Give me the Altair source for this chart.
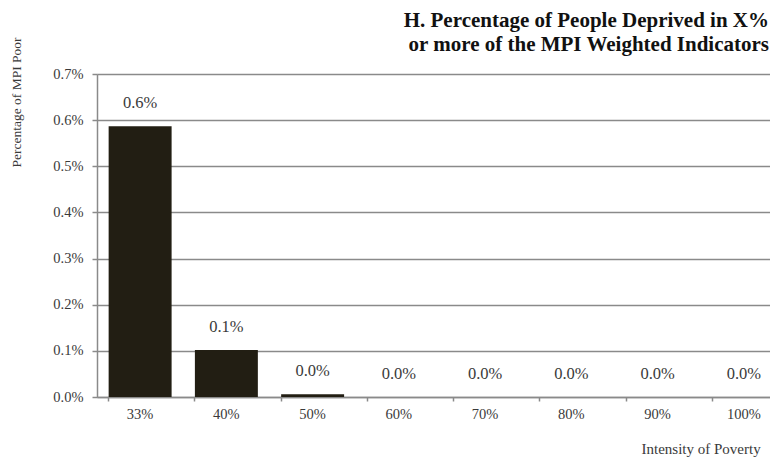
import altair as alt
import pandas as pd

categories = ["33%", "40%", "50%", "60%", "70%", "80%", "90%", "100%"]
values = [0.00587, 0.00102, 0.00006, 0.0, 0.0, 0.0, 0.0, 0.0]
y_ticks = [0.0, 0.001, 0.002, 0.003, 0.004, 0.005, 0.006, 0.007]

df = pd.DataFrame({"cat": categories, "val": values})

FONT = "Liberation Serif"
GRAY = "#8a8a8a"
TXT = "#3a3a3a"

x_enc = alt.X(
    "cat:N",
    sort=categories,
    scale=alt.Scale(paddingInner=0.27, paddingOuter=0.135, range=[0, 690]),
    axis=alt.Axis(
        title="Intensity of Poverty",
        labelAngle=0,
        labelFont=FONT,
        labelFontSize=14.5,
        labelColor=TXT,
        labelPadding=6,
        bandPosition=0,
        tickSize=4,
        tickColor=GRAY,
        tickWidth=1.5,
        domainColor=GRAY,
        domainWidth=1.5,
        titleFont=FONT,
        titleFontSize=15,
        titleFontWeight="normal",
        titleColor=TXT,
        titleAnchor="start",
        titleAlign="left",
        titleBaseline="alphabetic",
        titleX=544,
        titleY=56,
    ),
)

y_enc = alt.Y(
    "val:Q",
    scale=alt.Scale(domain=[0, 0.007], nice=False),
    axis=alt.Axis(
        title="Percentage of MPI Poor",
        values=y_ticks,
        format=".1%",
        labelFont=FONT,
        labelFontSize=14.5,
        labelColor=TXT,
        labelPadding=9,
        tickSize=5,
        tickColor=GRAY,
        tickWidth=1.5,
        domainColor=GRAY,
        domainWidth=1.5,
        grid=True,
        gridColor=GRAY,
        gridWidth=1.5,
        titleFont=FONT,
        titleFontSize=13.5,
        titleFontWeight="normal",
        titleColor=TXT,
        titleAngle=-90,
        titleAlign="center",
        titleBaseline="middle",
        titleX=-81,
        titleY=28,
    ),
)

bars = alt.Chart(df).mark_bar(color="#221e13").encode(x=x_enc, y=y_enc)

labels = alt.Chart(df).mark_text(
    font=FONT, fontSize=16.5, color=TXT, dy=-23, baseline="middle"
).encode(
    x=alt.X("cat:N", sort=categories),
    y=alt.Y("val:Q"),
    text=alt.Text("val:Q", format=".1%"),
)

chart = (
    alt.layer(bars, labels)
    .properties(
        width=673,
        height=323,
        autosize=alt.AutoSizeParams(type="none"),
        padding={"left": 89, "top": 66, "right": 0, "bottom": 60},
        title=alt.TitleParams(
            text=["H. Percentage of People Deprived in X%", "or more of the MPI Weighted Indicators"],
            anchor="end",
            frame="group",
            font=FONT,
            fontSize=21,
            fontWeight="bold",
            color="#111111",
            lineHeight=24,
            offset=-18,
            dx=-1,
        ),
    )
    .configure_view(stroke=None)
    .configure(background="white")
)

chart.save("out.html", embed_options={"renderer": "svg", "actions": False})
